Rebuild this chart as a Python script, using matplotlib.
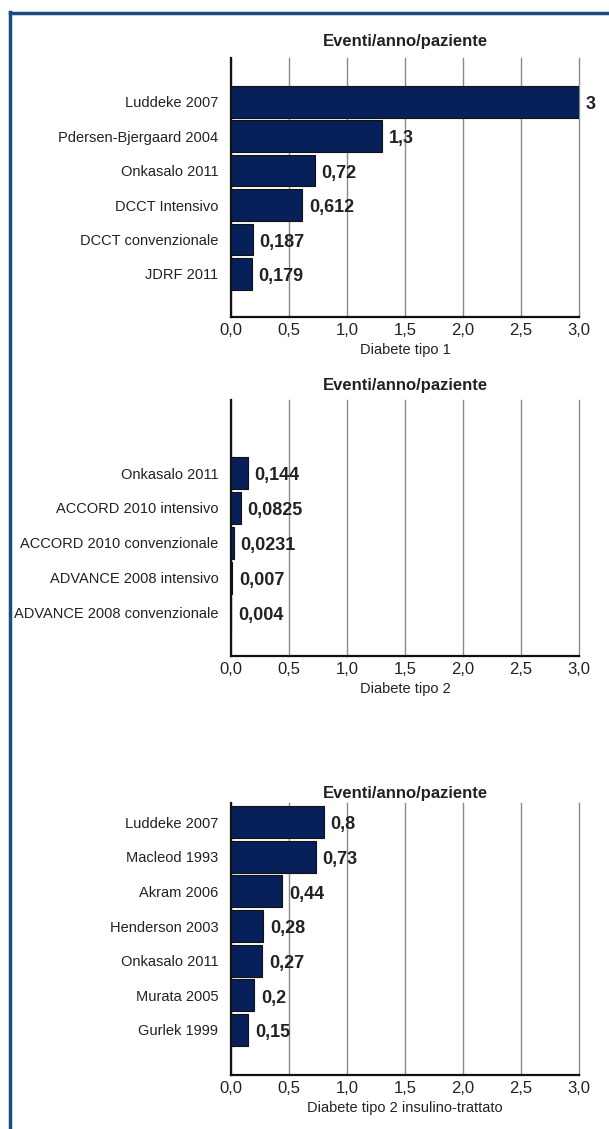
import matplotlib
matplotlib.use("Agg")
import matplotlib.pyplot as plt
from matplotlib.lines import Line2D

plt.rcParams['font.family'] = ['Liberation Sans', 'DejaVu Sans']

# Episodi di ipoglicemia severa (eventi/anno/paziente)
studi_t1 = ["Luddeke 2007", "Pdersen-Bjergaard 2004", "Onkasalo 2011",
            "DCCT Intensivo", "DCCT convenzionale", "JDRF 2011"]
valori_t1 = [3, 1.3, 0.72, 0.612, 0.187, 0.179]

studi_t2 = ["Onkasalo 2011", "ACCORD 2010 intensivo", "ACCORD 2010 convenzionale",
            "ADVANCE 2008 intensivo", "ADVANCE 2008 convenzionale"]
valori_t2 = [0.144, 0.0825, 0.0231, 0.007, 0.004]

studi_t2i = ["Luddeke 2007", "Macleod 1993", "Akram 2006", "Henderson 2003",
             "Onkasalo 2011", "Murata 2005", "Gurlek 1999"]
valori_t2i = [0.8, 0.73, 0.44, 0.28, 0.27, 0.2, 0.15]

xticks = [0.0, 0.5, 1.0, 1.5, 2.0, 2.5, 3.0]
titolo = "Eventi/anno/paziente"

navy = "#08205a"
testo = "#222222"

fig = plt.figure(figsize=(6.09, 11.29), dpi=100)

# pannelli: (studi, valori, etichetta asse x, [left, bottom, width, height], ylim, pad titolo)
pannelli = [
    (studi_t1, valori_t1, "Diabete tipo 1", [0.3793, 0.7192, 0.5714, 0.2294], (6.25, -1.27), 9),
    (studi_t2, valori_t2, "Diabete tipo 2", [0.3793, 0.4190, 0.5714, 0.2268], (5.23, -2.09), 7),
    (studi_t2i, valori_t2i, "Diabete tipo 2 insulino-trattato",
     [0.3793, 0.0478, 0.5714, 0.2409], (7.3, -0.55), 4),
]

for studi, valori, xlab, pos, ylim, tpad in pannelli:
    ax = fig.add_axes(pos)
    y = list(range(len(studi)))
    ax.barh(y, valori, height=0.92, color=navy, edgecolor="#111111", linewidth=0.8, zorder=3)
    for yi, v in zip(y, valori):
        ax.annotate(f"{v:g}".replace(".", ","), (v, yi), xytext=(5, -2),
                    textcoords="offset points", ha="left", va="center",
                    fontsize=13, fontweight="bold", color=testo, zorder=4)
    ax.set_xlim(0, 3.0)
    ax.set_ylim(*ylim)
    ax.set_xticks(xticks)
    ax.set_xticklabels([f"{t:.1f}".replace(".", ",") for t in xticks])
    ax.set_yticks(y)
    ax.set_yticklabels(studi)
    ax.tick_params(axis="y", length=0, pad=9, labelsize=10.5, labelcolor=testo)
    ax.tick_params(axis="x", length=0, pad=4, labelsize=12, labelcolor=testo)
    ax.grid(axis="x", color="#8a8a8a", linewidth=1.0, zorder=0)
    for gl in ax.get_xgridlines():
        gl.set_clip_on(False)
    ax.set_axisbelow(True)
    for s in ["top", "right"]:
        ax.spines[s].set_visible(False)
    ax.spines["left"].set_linewidth(1.6)
    ax.spines["bottom"].set_linewidth(1.6)
    ax.spines["left"].set_color("#111111")
    ax.spines["bottom"].set_color("#111111")
    ax.set_xlabel(xlab, fontsize=10.5, color=testo, labelpad=4)
    ax.set_title(titolo, fontsize=12, fontweight="bold", color=testo, pad=tpad)

# cornice blu in alto e a sinistra
bordo = "#1c4b80"
fig.add_artist(Line2D([9.5 / 609, 1.0], [1 - 13 / 1129] * 2, color=bordo, linewidth=2.5,
                      transform=fig.transFigure))
fig.add_artist(Line2D([10 / 609] * 2, [0.0, 1 - 12 / 1129], color=bordo, linewidth=2.5,
                      transform=fig.transFigure))

fig.savefig("out.png", dpi=100)
